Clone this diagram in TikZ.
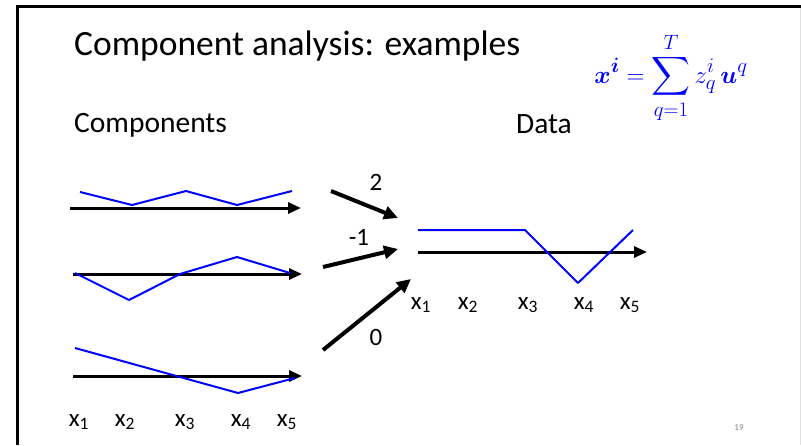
\documentclass[tikz,border=0pt]{standalone}
\usepackage{amsmath, amssymb}
\usepackage[no-math]{fontspec}
\setmainfont{Carlito}
\usepackage{tikz}
\usetikzlibrary{arrows.meta}
\DeclareMathSizes{27}{27}{21}{16}

\begin{document}
\begin{tikzpicture}[x=1pt, y=-1pt, inner sep=0pt, font=\fontsize{25}{30}\selectfont,
    axis/.style={line width=3pt, -{Triangle[length=13pt, width=11pt]}},
    weight/.style={line width=4pt, -{Triangle[length=14pt, width=13pt]}},
    wave/.style={blue, line width=2pt, line join=round}]
  \useasboundingbox (0,0) rectangle (801,445);
  \draw[line width=3pt] (17.5,445) -- (17.5,6) -- (801,6);
  \draw[black!12] (800,7.5) -- (800,445);
  \node[anchor=base west, font=\fontsize{35.5}{40}\selectfont] (title) at (74,55) {Component analysis: examples};
  \node[anchor=base west, font=\fontsize{29.5}{34}\selectfont] (comp) at (74,132) {Components};
  \node[anchor=base west, font=\fontsize{29.5}{34}\selectfont] (data) at (516,133) {Data};
  \node[blue, font=\fontsize{27}{32}\selectfont] (sum) at (671,78)
    {$\displaystyle \boldsymbol{x}^{\boldsymbol{i}} = \sum_{q=1}^{T} z_q^i\, \boldsymbol{u}^q$};
  % components
  \coordinate (a1s) at (70,208);  \coordinate (a1e) at (301,208);
  \coordinate (a2s) at (73,274);  \coordinate (a2e) at (302,274);
  \coordinate (a3s) at (73,376);  \coordinate (a3e) at (302,376);
  \draw[axis] (a1s) -- (a1e);
  \draw[axis] (a2s) -- (a2e);
  \draw[axis] (a3s) -- (a3e);
  \draw[wave] (80,192) -- (132,205) -- (186,191) -- (237,205) -- (292,191);
  \draw[wave] (75,273) -- (129,300) -- (180,274) -- (237,257) -- (290,273);
  \draw[wave] (75,348) -- (238,393) -- (295,378);
  \foreach \i/\px in {1/79, 2/125, 3/185, 4/241, 5/287}
    \node[anchor=base] (cx\i) at (\px,426) {x\textsubscript{\i}};
  % weights
  \coordinate (w1s) at (331,191); \coordinate (w1e) at (398,218);
  \coordinate (w2s) at (323,267); \coordinate (w2e) at (398,249);
  \coordinate (w3s) at (323,350); \coordinate (w3e) at (411,279);
  \draw[weight] (w1s) -- (w1e);
  \draw[weight] (w2s) -- (w2e);
  \draw[weight] (w3s) -- (w3e);
  \node (w1) at (376,182) {2};
  \node (w2) at (359,237) {-1};
  \node (w3) at (376,337) {0};
  % data
  \coordinate (ds) at (418,252); \coordinate (de) at (647,252);
  \draw[axis] (ds) -- (de);
  \draw[wave] (418,230) -- (525,230) -- (578,283) -- (633,230);
  \foreach \i/\px in {1/421, 2/468, 3/528, 4/584, 5/630}
    \node[anchor=base] (dx\i) at (\px,309) {x\textsubscript{\i}};
  \node[gray, font=\fontsize{9}{10}\selectfont] (page) at (739,428) {19};
\end{tikzpicture}
\end{document}
